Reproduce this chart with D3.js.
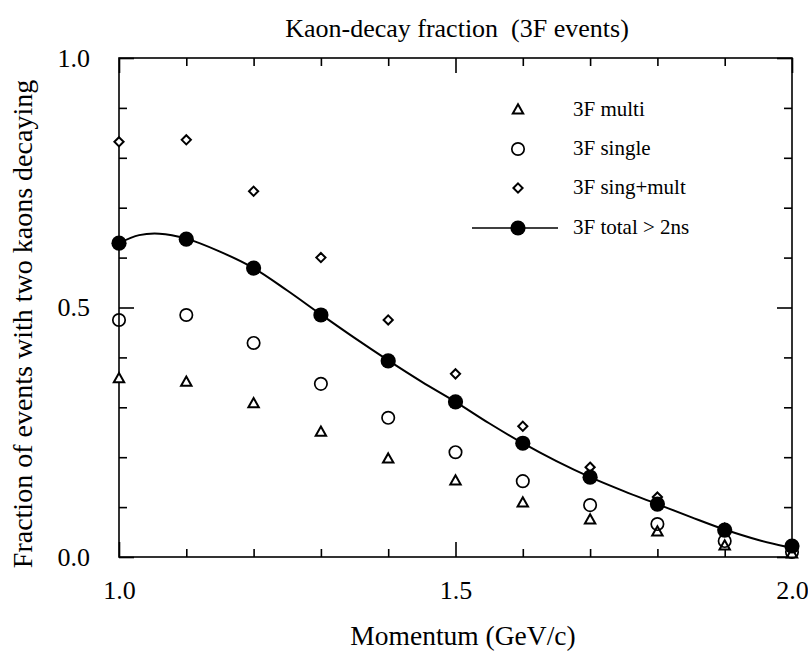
<!DOCTYPE html>
<html>
<head>
<meta charset="utf-8">
<script src="https://cdn.jsdelivr.net/npm/d3@7"></script>
<style>
  html, body { margin: 0; padding: 0; background: #fff; }
  svg { display: block; }
  text { font-family: "Liberation Serif", "Times New Roman", serif; fill: #000; white-space: pre; }
</style>
</head>
<body>
<svg id="chart" width="808" height="652"></svg>
<script>
// ---- data ----
const momentum = [1.0, 1.1, 1.2, 1.3, 1.4, 1.5, 1.6, 1.7, 1.8, 1.9, 2.0];
const multi    = [0.357, 0.350, 0.307, 0.250, 0.196, 0.152, 0.108, 0.074, 0.050, 0.022, 0.006];
const single   = [0.475, 0.485, 0.429, 0.347, 0.279, 0.210, 0.152, 0.104, 0.066, 0.032, 0.010];
const singMult = [0.832, 0.836, 0.733, 0.600, 0.475, 0.367, 0.262, 0.180, 0.120, 0.058, 0.022];
const total    = [0.629, 0.637, 0.579, 0.485, 0.393, 0.311, 0.228, 0.160, 0.106, 0.054, 0.022];
// smooth fit curve drawn through the "total" points
const fitMomentum = [1.0, 1.03, 1.06, 1.1, 1.15, 1.2, 1.25, 1.3, 1.35, 1.4, 1.45, 1.5, 1.55, 1.6, 1.65, 1.7, 1.75, 1.8, 1.85, 1.9, 1.95, 1.99];
const fitValue    = [0.629, 0.645, 0.648, 0.638, 0.612, 0.579, 0.534, 0.486, 0.439, 0.394, 0.351, 0.311, 0.268, 0.228, 0.192, 0.160, 0.132, 0.106, 0.080, 0.055, 0.034, 0.021];
const xMajorTicks = [1.0, 1.5, 2.0];
const xMinorTicks = [1.1, 1.2, 1.3, 1.4, 1.6, 1.7, 1.8, 1.9];
const yMajorTicks = [0.0, 0.5, 1.0];
const yMinorTicks = [0.1, 0.2, 0.3, 0.4, 0.6, 0.7, 0.8, 0.9];
const legendLabels = ["3F multi", "3F single", "3F sing+mult", "3F total > 2ns"];
const titleText = "Kaon-decay fraction  (3F events)";
const xLabel = "Momentum (GeV/c)";
const yLabel = "Fraction of events with two kaons decaying";

// ---- layout ----
const svg = d3.select("#chart");
const L = 119, R = 792, T = 58, B = 557;
const x = d3.scaleLinear().domain([1, 2]).range([L, R]);
const y = d3.scaleLinear().domain([0, 1]).range([B, T]);
const SW = 1.6;

svg.append("rect").attr("width", 808).attr("height", 652).attr("fill", "#fff");

function styleAxis(g) {
  g.select(".domain").remove();
  g.selectAll(".tick line").attr("stroke", "#000").attr("stroke-width", SW);
  g.selectAll("text").style("font-family", '"Liberation Serif", serif').style("font-size", "26px").attr("fill", "#000");
}

// bottom
svg.append("g").attr("transform", `translate(0,${B})`)
  .call(d3.axisBottom(x).tickValues(xMinorTicks).tickSize(-8).tickFormat(""))
  .call(styleAxis);
svg.append("g").attr("transform", `translate(0,${B})`)
  .call(d3.axisBottom(x).tickValues(xMajorTicks).tickSize(-15).tickPadding(24).tickFormat(d3.format(".1f")))
  .call(styleAxis);
// top
svg.append("g").attr("transform", `translate(0,${T})`)
  .call(d3.axisTop(x).tickValues(xMinorTicks).tickSize(-8).tickFormat(""))
  .call(styleAxis);
svg.append("g").attr("transform", `translate(0,${T})`)
  .call(d3.axisTop(x).tickValues(xMajorTicks).tickSize(-15).tickFormat(""))
  .call(styleAxis);
// left
svg.append("g").attr("transform", `translate(${L},0)`)
  .call(d3.axisLeft(y).tickValues(yMinorTicks).tickSize(-8).tickFormat(""))
  .call(styleAxis);
svg.append("g").attr("transform", `translate(${L},0)`)
  .call(d3.axisLeft(y).tickValues(yMajorTicks).tickSize(-15).tickPadding(29).tickFormat(d3.format(".1f")))
  .call(styleAxis);
// right
svg.append("g").attr("transform", `translate(${R},0)`)
  .call(d3.axisRight(y).tickValues(yMinorTicks).tickSize(-8).tickFormat(""))
  .call(styleAxis);
svg.append("g").attr("transform", `translate(${R},0)`)
  .call(d3.axisRight(y).tickValues(yMajorTicks).tickSize(-15).tickFormat(""))
  .call(styleAxis);

// frame
svg.append("rect").attr("x", L).attr("y", T).attr("width", R - L).attr("height", B - T)
  .attr("fill", "none").attr("stroke", "#000").attr("stroke-width", SW);

// titles
svg.append("text").attr("x", 457).attr("y", 37).attr("text-anchor", "middle")
  .attr("xml:space", "preserve")
  .style("font-size", "26px").text(titleText);
svg.append("text").attr("x", 463).attr("y", 645).attr("text-anchor", "middle")
  .style("font-size", "27.5px").text(xLabel);
svg.append("text").attr("transform", `translate(32,324) rotate(-90)`).attr("text-anchor", "middle")
  .style("font-size", "28px").text(yLabel);

// marker drawers
const triPath = "M0,-5.8L5.2,3.4L-5.2,3.4Z";
const diaPath = "M0,-4.6L4.6,0L0,4.6L-4.6,0Z";
function drawTri(g, cx, cy) {
  g.append("path").attr("d", triPath).attr("transform", `translate(${cx},${cy})`)
    .attr("fill", "#fff").attr("stroke", "#000").attr("stroke-width", 2).attr("stroke-linejoin", "miter");
}
function drawCirc(g, cx, cy) {
  g.append("circle").attr("cx", cx).attr("cy", cy).attr("r", 6.2)
    .attr("fill", "none").attr("stroke", "#000").attr("stroke-width", 1.7);
}
function drawDia(g, cx, cy) {
  g.append("path").attr("d", diaPath).attr("transform", `translate(${cx},${cy})`)
    .attr("fill", "#fff").attr("stroke", "#000").attr("stroke-width", 2);
}
function drawDot(g, cx, cy) {
  g.append("circle").attr("cx", cx).attr("cy", cy).attr("r", 7.6).attr("fill", "#000");
}

const marks = svg.append("g");
momentum.forEach((m, i) => drawTri(marks, x(m), y(multi[i])));
momentum.forEach((m, i) => drawCirc(marks, x(m), y(single[i])));
momentum.forEach((m, i) => drawDia(marks, x(m), y(singMult[i])));

// fit curve
const fitData = fitMomentum.map((m, i) => [m, fitValue[i]]);
svg.append("path").datum(fitData)
  .attr("d", d3.line().x(d => x(d[0])).y(d => y(d[1])).curve(d3.curveCatmullRom.alpha(0.5)))
  .attr("fill", "none").attr("stroke", "#000").attr("stroke-width", 2);

const dots = svg.append("g");
momentum.forEach((m, i) => drawDot(dots, x(m), y(total[i])));

// legend
const lg = svg.append("g");
const legendY = [110, 149, 188, 228];
const lx = 518, tx = 573;
drawTri(lg, lx, legendY[0]);
drawCirc(lg, lx, legendY[1]);
drawDia(lg, lx, legendY[2]);
lg.append("line").attr("x1", 472).attr("x2", 558).attr("y1", legendY[3]).attr("y2", legendY[3])
  .attr("stroke", "#000").attr("stroke-width", 1.6);
drawDot(lg, lx, legendY[3]);
legendLabels.forEach((t, i) => {
  lg.append("text").attr("x", tx).attr("y", legendY[i] + 6).style("font-size", "21px").text(t);
});
</script>
</body>
</html>
